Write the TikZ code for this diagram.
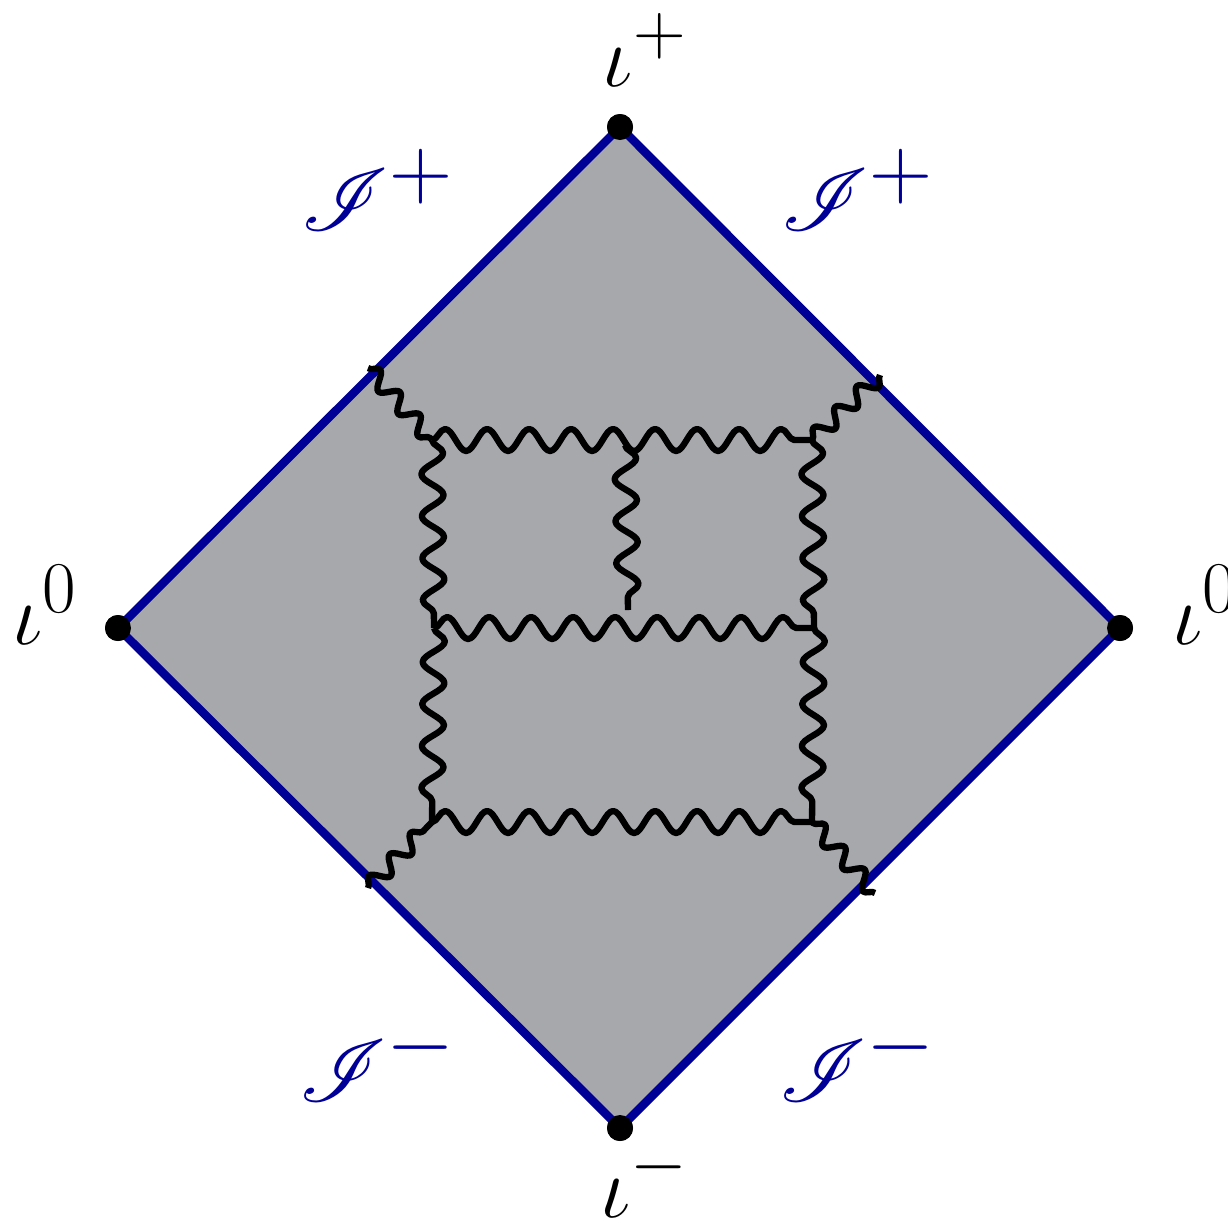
\documentclass[tikz,border=0pt]{standalone}
\usepackage{mathrsfs}
\usetikzlibrary{decorations.pathmorphing}
\definecolor{edgeblue}{RGB}{0,0,150}
\definecolor{fillgrey}{RGB}{167,168,172}
\begin{document}
\begin{tikzpicture}[
  dotnode/.style={circle,fill=black,inner sep=0pt,minimum size=0.26cm},
  lbl/.style={font=\fontsize{28}{32}\selectfont},
  scri/.style={font=\fontsize{33}{38}\selectfont,text=edgeblue},
  edge/.style={draw=edgeblue,line width=2.4pt},
  gluon/.style={draw=black,line width=1.8pt,line join=round,decorate,decoration={snake,amplitude=0.11cm,segment length=0.42cm}},
  leg/.style={draw=black,line width=1.8pt,line join=round,decorate,decoration={snake,amplitude=0.08cm,segment length=0.30cm}}
]
\useasboundingbox (0,0) rectangle (12.28,-12.23);
\node[dotnode] (T) at (6.20,-1.27) {};
\node[dotnode] (L) at (1.18,-6.28) {};
\node[dotnode] (R) at (11.20,-6.28) {};
\node[dotnode] (B) at (6.20,-11.28) {};
\fill[fillgrey] (T.center) -- (R.center) -- (B.center) -- (L.center) -- cycle;
\draw[edge] (T.center) -- (R.center) -- (B.center) -- (L.center) -- cycle;
% vertices
\coordinate (ul) at (4.32,-4.40);
\coordinate (um) at (6.25,-4.45);
\coordinate (ur) at (8.12,-4.40);
\coordinate (ml) at (4.34,-6.28);
\coordinate (mm) at (6.28,-6.10);
\coordinate (mr) at (8.14,-6.28);
\coordinate (ll) at (4.32,-8.22);
\coordinate (lr) at (8.12,-8.22);
\coordinate (eul) at (3.68,-3.68);
\coordinate (eur) at (8.80,-3.75);
\coordinate (ell) at (3.68,-8.88);
\coordinate (elr) at (8.75,-8.93);
% gluons
\draw[gluon] (ul) -- (ur);
\draw[gluon] (ml) -- (mr);
\draw[gluon] (ll) -- (lr);
\draw[gluon] (ul) -- (ml);
\draw[gluon] (ml) -- (ll);
\draw[gluon] (ur) -- (mr);
\draw[gluon] (mr) -- (lr);
\draw[gluon] (um) -- (mm);
\draw[leg] (eul) -- (ul);
\draw[leg] (eur) -- (ur);
\draw[leg] (ell) -- (ll);
\draw[leg] (elr) -- (lr);
% redraw dots on top
\node[dotnode] at (T) {};
\node[dotnode] at (L) {};
\node[dotnode] at (R) {};
\node[dotnode] at (B) {};
% labels
\node[lbl] (tl) at (6.45,-0.50) {$\iota^{+}$};
\node[lbl] (bl) at (6.45,-11.80) {$\iota^{-}$};
\node[lbl] (ll0) at (0.45,-6.05) {$\iota^{0}$};
\node[lbl] (rl0) at (12.05,-6.05) {$\iota^{0}$};
\node[scri] (s1) at (3.78,-1.90) {$\mathscr{I}^{+}$};
\node[scri] (s2) at (8.58,-1.90) {$\mathscr{I}^{+}$};
\node[scri] (s3) at (3.78,-10.60) {$\mathscr{I}^{-}$};
\node[scri] (s4) at (8.58,-10.60) {$\mathscr{I}^{-}$};
\end{tikzpicture}
\end{document}
